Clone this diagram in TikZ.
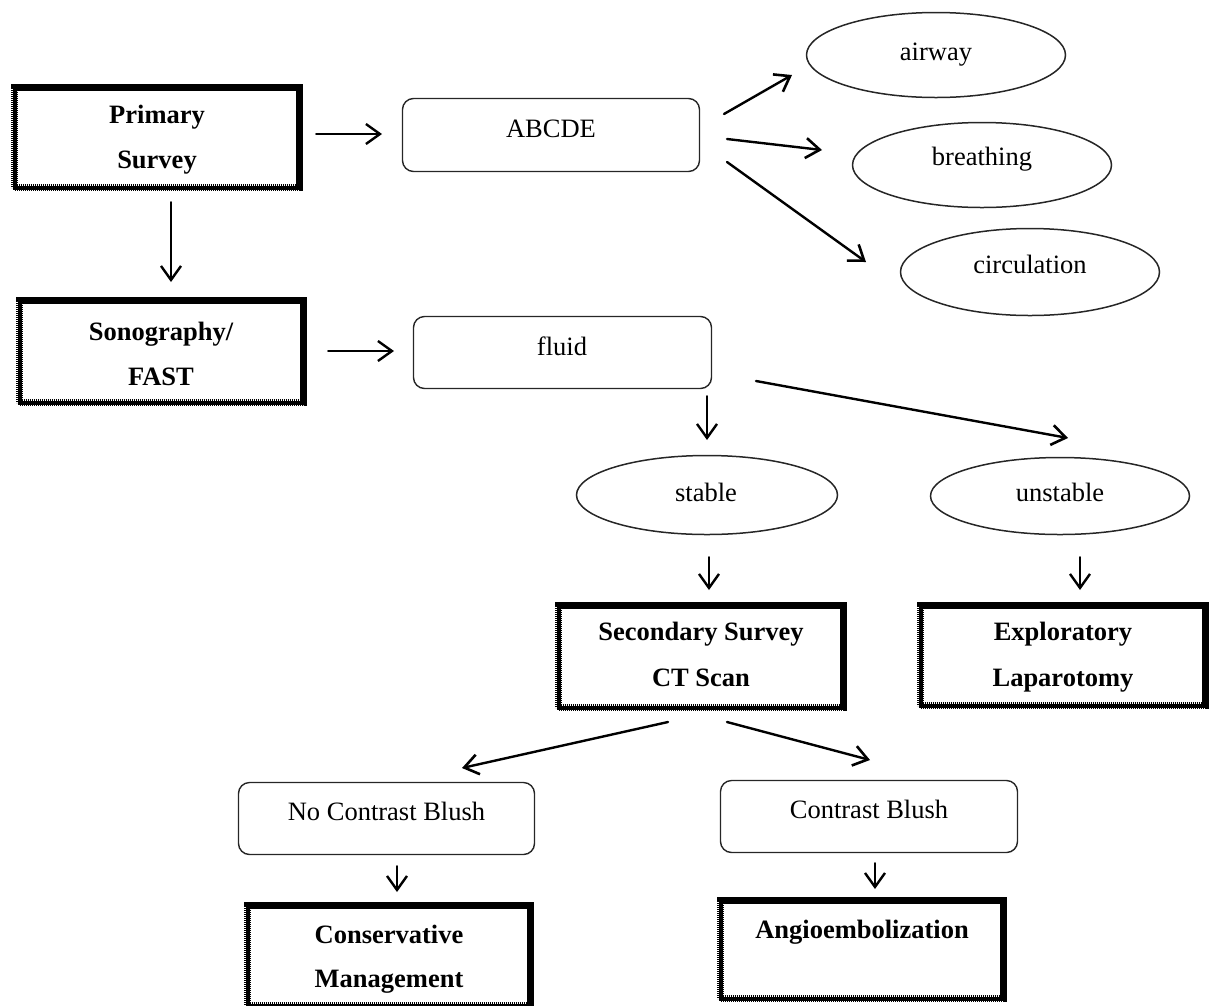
\documentclass[tikz,border=0pt]{standalone}
\usepackage{fontspec}
\setmainfont{Liberation Serif}
\usetikzlibrary{arrows.meta,shapes.geometric}

\tikzset{
  every node/.style={inner sep=0pt, outer sep=0pt},
  txt/.style={anchor=base, font=\fontsize{26.5}{30}\selectfont},
  btxt/.style={txt, font=\fontsize{26.5}{30}\selectfont\bfseries},
  keybox/.style={rectangle, draw=black, line width=4pt,
    preaction={draw=black, line width=6.2pt, dash pattern=on 1.1pt off 0.9pt}},
  roundbox/.style={rectangle, rounded corners=11pt, draw=black!85, line width=1.4pt},
  oval/.style={ellipse, draw=black!85, line width=1.5pt},
  arr/.style={-{Straight Barb[length=14pt,width=20pt,line width=2.4pt]}, line width=1.8pt, line cap=round},
  darr/.style={-{Straight Barb[length=14pt,width=20pt,line width=2.6pt]}, line width=2.4pt, line cap=round},
}

\begin{document}
\begin{tikzpicture}[x=1pt,y=-1pt]
\useasboundingbox (0,0) rectangle (1213,1005);

% --- boxes with heavy borders
\node[keybox, minimum width=285pt, minimum height=100pt] (primary) at (157,137.5) {};
\node[keybox, minimum width=284pt, minimum height=102pt] (sono) at (161.5,351.5) {};
\node[keybox, minimum width=285pt, minimum height=102pt] (second) at (701,656.5) {};
\node[keybox, minimum width=285pt, minimum height=100pt] (explor) at (1063,655.5) {};
\node[keybox, minimum width=283pt, minimum height=100pt] (conserv) at (389,955.5) {};
\node[keybox, minimum width=283pt, minimum height=98pt] (angio) at (862,949.5) {};

% --- rounded boxes
\node[roundbox, minimum width=297pt, minimum height=73pt] (abcde) at (551,135) {};
\node[roundbox, minimum width=298pt, minimum height=72pt] (fluid) at (562.5,352.5) {};
\node[roundbox, minimum width=296pt, minimum height=72pt] (nocb) at (386.5,818.5) {};
\node[roundbox, minimum width=297pt, minimum height=72pt] (cb) at (869,816.5) {};

% --- ellipses
\node[oval, minimum width=259pt, minimum height=85pt] (airway) at (936,55) {};
\node[oval, minimum width=259pt, minimum height=85pt] (breath) at (982,165) {};
\node[oval, minimum width=259pt, minimum height=87pt] (circ) at (1030,272) {};
\node[oval, minimum width=261pt, minimum height=79pt] (stable) at (707,495) {};
\node[oval, minimum width=259pt, minimum height=77pt] (unstable) at (1060,496) {};

% --- labels
\node[btxt] (primaryA) at (157,123) {Primary};
\node[btxt] (primaryB) at (157,168) {Survey};
\node[btxt] (sonoA) at (161,340) {Sonography/};
\node[btxt] (sonoB) at (161,385) {FAST};
\node[btxt] (secondA) at (701,640) {Secondary Survey};
\node[btxt] (secondB) at (701,686) {CT Scan};
\node[btxt] (explorA) at (1063,640) {Exploratory};
\node[btxt] (explorB) at (1063,686) {Laparotomy};
\node[btxt] (conservA) at (389,943) {Conservative};
\node[btxt] (conservB) at (389,987) {Management};
\node[btxt] (angioA) at (862,938) {Angioembolization};

\node[txt] (abcdeT) at (551,137) {ABCDE};
\node[txt] (fluidT) at (562,355) {fluid};
\node[txt] (nocbT) at (386.5,820) {No Contrast Blush};
\node[txt] (cbT) at (869,818) {Contrast Blush};
\node[txt] (airwayT) at (936,60) {airway};
\node[txt] (breathT) at (982,165) {breathing};
\node[txt] (circT) at (1030,273) {circulation};
\node[txt] (stableT) at (706,501) {stable};
\node[txt] (unstableT) at (1060,501) {unstable};

% --- connector end points
\coordinate (p1) at (316,134);  \coordinate (q1) at (382,134);
\coordinate (p2) at (724,114);  \coordinate (q2) at (792,75);
\coordinate (p3) at (727,139);  \coordinate (q3) at (822,150);
\coordinate (p4) at (727,162);  \coordinate (q4) at (866,262);
\coordinate (p5) at (171,202);  \coordinate (q5) at (171,282);
\coordinate (p6) at (328,351);  \coordinate (q6) at (394,351);
\coordinate (p7) at (707,396);  \coordinate (q7) at (707,440);
\coordinate (p8) at (756,381);  \coordinate (q8) at (1068,438);
\coordinate (p9) at (709,557);  \coordinate (q9) at (709,590);
\coordinate (p10) at (1080,557); \coordinate (q10) at (1080,590);
\coordinate (p11) at (668,722); \coordinate (q11) at (462,768);
\coordinate (p12) at (727,722); \coordinate (q12) at (870,760);
\coordinate (p13) at (397,866); \coordinate (q13) at (397,892);
\coordinate (p14) at (875,863); \coordinate (q14) at (875,889);

% --- connectors
\draw[arr] (p1) -- (q1);
\draw[darr] (p2) -- (q2);
\draw[darr] (p3) -- (q3);
\draw[darr] (p4) -- (q4);
\draw[arr] (p5) -- (q5);
\draw[arr] (p6) -- (q6);
\draw[arr] (p7) -- (q7);
\draw[darr] (p8) -- (q8);
\draw[arr] (p9) -- (q9);
\draw[arr] (p10) -- (q10);
\draw[darr] (p11) -- (q11);
\draw[darr] (p12) -- (q12);
\draw[arr] (p13) -- (q13);
\draw[arr] (p14) -- (q14);
\end{tikzpicture}
\end{document}
